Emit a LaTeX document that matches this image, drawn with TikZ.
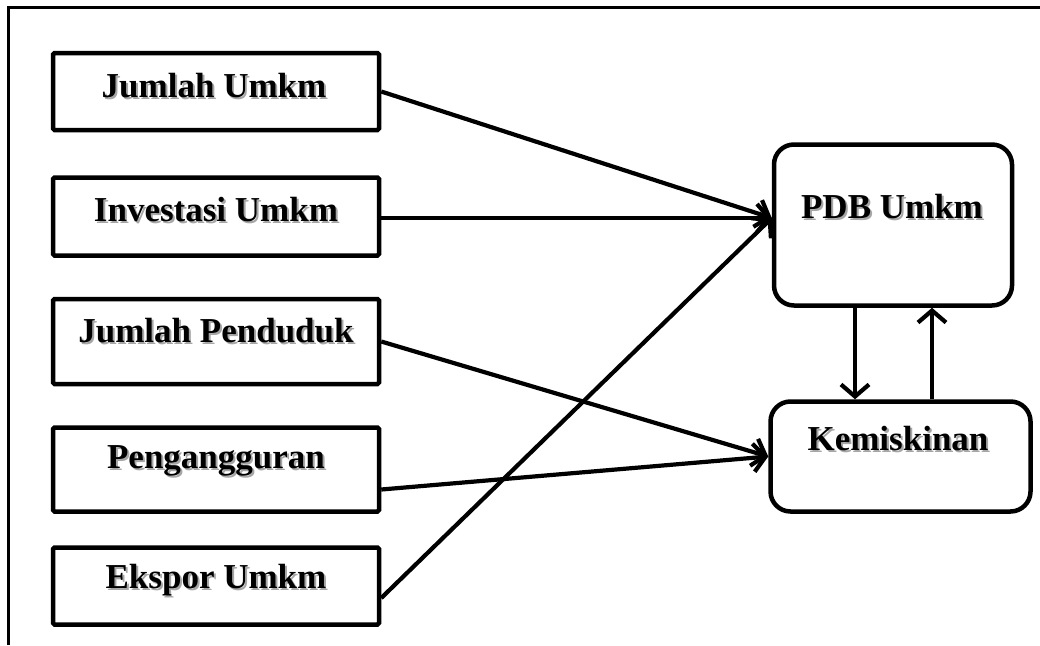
\documentclass[tikz,border=0pt]{standalone}
\usepackage{fontspec}
\setmainfont{Liberation Serif}
\usetikzlibrary{arrows.meta}
\newcommand\shd[1]{\rlap{\kern2pt\raisebox{-2pt}{\textcolor{black!35}{#1}}}#1}
\tikzset{
  leftbox/.style={draw, line width=4.5pt, rounded corners=1.5pt, minimum width=326pt, inner sep=0pt},
  rightbox/.style={draw, line width=4.5pt, rounded corners=20pt, inner sep=0pt},
  lbl/.style={anchor=base, inner sep=0pt, font=\fontsize{35pt}{36pt}\selectfont\bfseries},
  conn/.style={line width=4.2pt, -{Straight Barb[length=12pt,width=28pt]}},
}
\begin{document}
\begin{tikzpicture}[x=1pt,y=-1pt]
\useasboundingbox (0,0) rectangle (1040,645);
\fill[white] (0,0) rectangle (1040,645);
% frame
\draw[line width=2.5pt] (8.5,645) -- (8.5,7.5) -- (1040,7.5);
% left boxes
\node[leftbox, minimum height=77pt] (b1) at (216,91.5) {};
\node[leftbox, minimum height=78pt] (b2) at (216,216.5) {};
\node[leftbox, minimum height=85pt] (b3) at (216,341.5) {};
\node[leftbox, minimum height=84pt] (b4) at (216,469.5) {};
\node[leftbox, minimum height=77pt] (b5) at (216,586) {};
% right boxes
\node[rightbox, minimum width=238pt, minimum height=161pt] (pdb) at (893,225) {};
\node[rightbox, minimum width=260pt, minimum height=110pt] (kem) at (900.5,456.5) {};
% labels
\node[lbl] (t1) at (214,97) {\shd{Jumlah Umkm}};
\node[lbl] (t2) at (216,221) {\shd{Investasi Umkm}};
\node[lbl] (t3) at (216,342) {\shd{Jumlah Penduduk}};
\node[lbl] (t4) at (216,468) {\shd{Pengangguran}};
\node[lbl] (t5) at (216,588) {\shd{Ekspor Umkm}};
\node[lbl] (t6) at (892,218) {\shd{PDB Umkm}};
\node[lbl] (t7) at (898,450) {\shd{Kemiskinan}};
% connectors
\coordinate (pin) at ([yshift=7pt]pdb.west);
\draw[conn] (b1.east) -- (pin);
\draw[conn] ([yshift=-1.5pt]b2.east) -- (pin);
\draw[conn] ([yshift=-12pt]b5.east) -- (pin);
\draw[conn] (b3.east) -- (kem.west);
\draw[conn] ([yshift=-20pt]b4.east) -- (kem.west);
\draw[conn] ([xshift=-38pt]pdb.south) -- ([xshift=-45.5pt]kem.north);
\draw[conn] ([xshift=31.5pt]kem.north) -- ([xshift=39pt]pdb.south);
\end{tikzpicture}
\end{document}
